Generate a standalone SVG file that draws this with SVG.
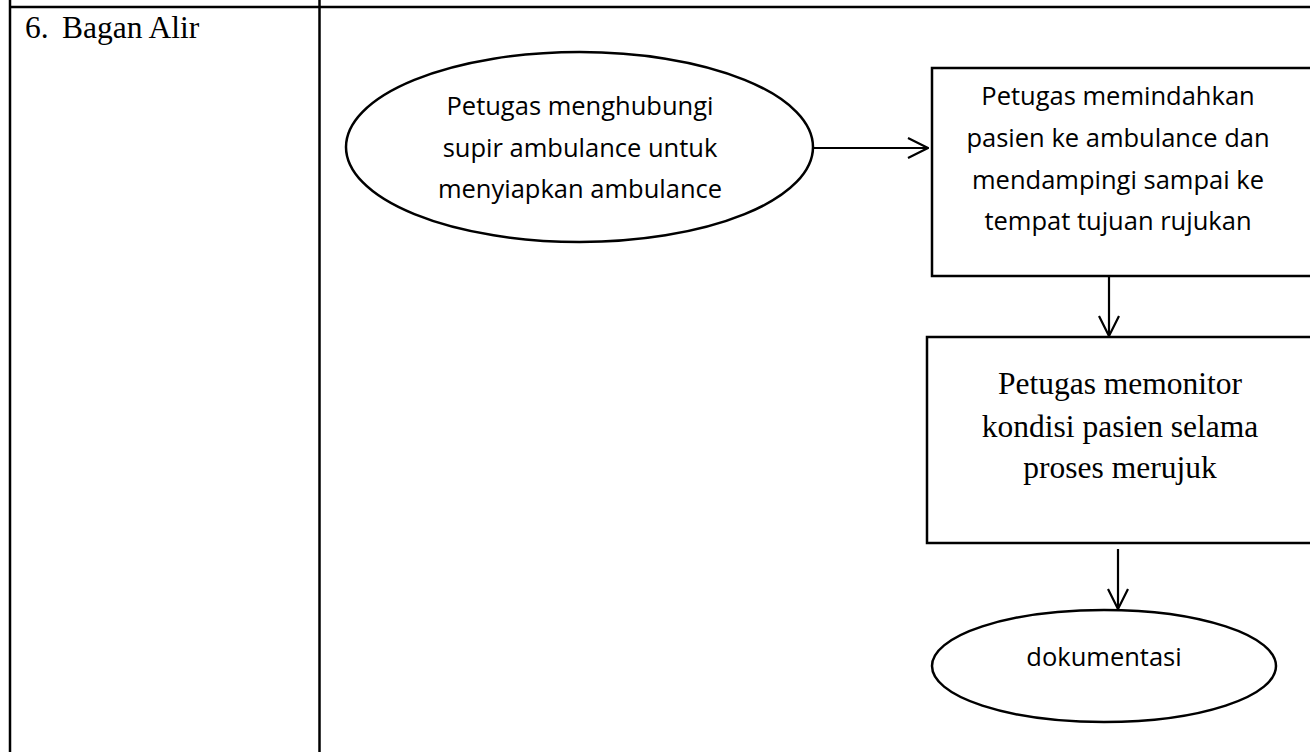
<svg xmlns="http://www.w3.org/2000/svg" width="1310" height="752" viewBox="0 0 1310 752">
<style>
.tbl{stroke:#000;stroke-width:2.5;fill:none}
.shape{stroke:#000;stroke-width:2.5;fill:#fff}
.conn{stroke:#000;stroke-width:2.2;fill:none}
.sans{font-family:"Open Sans","Noto Sans","Liberation Sans",sans-serif;font-size:25.5px;fill:#000;text-anchor:middle}
.serif{font-family:"Liberation Serif","Times New Roman",serif;font-size:31.5px;fill:#000}
</style>
<defs>
<marker id="arr" viewBox="0 0 22 22" refX="21" refY="11" markerWidth="22" markerHeight="22" markerUnits="userSpaceOnUse" orient="auto">
<path d="M1,1 L21,11 L1,21" fill="none" stroke="#000" stroke-width="2.2"/>
</marker>
</defs>
<rect width="1310" height="752" fill="#fff"/>
<g id="table">
<line class="tbl" x1="9" y1="7" x2="1310" y2="7"/>
<line class="tbl" x1="10" y1="0" x2="10" y2="752"/>
<line class="tbl" x1="319.5" y1="0" x2="319.5" y2="752"/>
<text class="serif" x="25" y="38">6.</text>
<text class="serif" x="62" y="38">Bagan Alir</text>
</g>
<g id="connectors">
<line class="conn" x1="813" y1="148" x2="928" y2="148" marker-end="url(#arr)"/>
<line class="conn" x1="1109" y1="277" x2="1109" y2="336" marker-end="url(#arr)"/>
<line class="conn" x1="1118" y1="549" x2="1118" y2="609" marker-end="url(#arr)"/>
</g>
<g id="node-1">
<ellipse class="shape" cx="579.5" cy="147" rx="233.5" ry="95"/>
<text class="sans" x="580" y="115">Petugas menghubungi</text>
<text class="sans" x="580" y="157">supir ambulance untuk</text>
<text class="sans" x="580" y="198">menyiapkan ambulance</text>
</g>
<g id="node-2">
<rect class="shape" x="932" y="68" width="400" height="208"/>
<text class="sans" x="1118" y="105">Petugas memindahkan</text>
<text class="sans" x="1118" y="147">pasien ke ambulance dan</text>
<text class="sans" x="1118" y="189">mendampingi sampai ke</text>
<text class="sans" x="1118" y="230">tempat tujuan rujukan</text>
</g>
<g id="node-3">
<rect class="shape" x="927" y="337" width="400" height="206"/>
<text class="serif" x="1120" y="394" text-anchor="middle">Petugas memonitor</text>
<text class="serif" x="1120" y="437" text-anchor="middle">kondisi pasien selama</text>
<text class="serif" x="1120" y="478" text-anchor="middle">proses merujuk</text>
</g>
<g id="node-4">
<ellipse class="shape" cx="1104" cy="666" rx="172" ry="56"/>
<text class="sans" x="1104" y="666">dokumentasi</text>
</g>
</svg>
